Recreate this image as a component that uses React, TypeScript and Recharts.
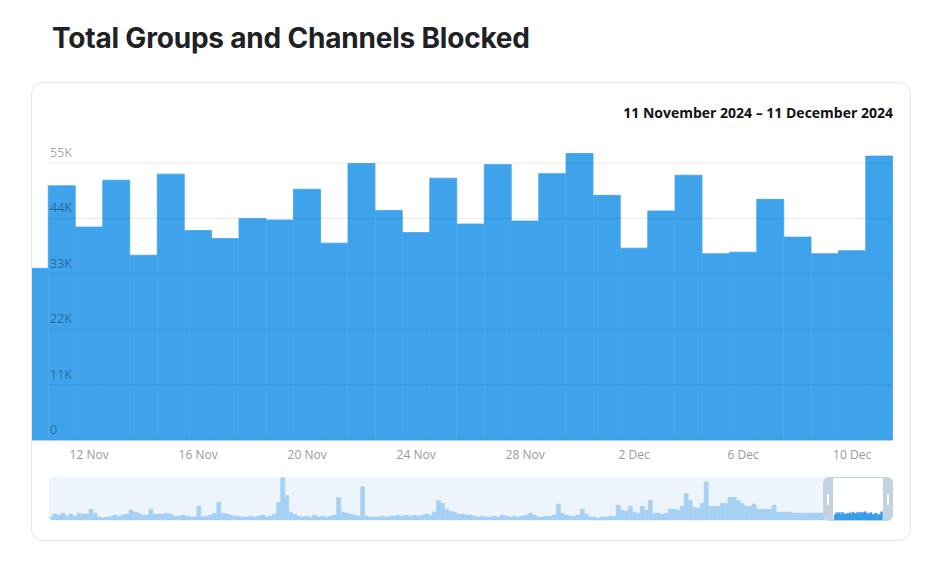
import React from 'react';
import { BarChart, Bar, XAxis, YAxis, CartesianGrid } from 'recharts';

const days = [
  '10 Nov', '11 Nov', '12 Nov', '13 Nov', '14 Nov', '15 Nov', '16 Nov', '17 Nov', '18 Nov', '19 Nov',
  '20 Nov', '21 Nov', '22 Nov', '23 Nov', '24 Nov', '25 Nov', '26 Nov', '27 Nov', '28 Nov', '29 Nov',
  '30 Nov', '1 Dec', '2 Dec', '3 Dec', '4 Dec', '5 Dec', '6 Dec', '7 Dec', '8 Dec', '9 Dec',
  '10 Dec', '11 Dec',
];

const blocked = [
  34100, 50500, 42300, 51600, 36700, 52800, 41600, 40000, 44000, 43700,
  49800, 39100, 54900, 45600, 41200, 52000, 42900, 54700, 43500, 52900,
  56900, 48600, 38100, 45500, 52600, 37000, 37300, 47800, 40300, 37000,
  37600, 56400,
];

const tickLabels = ['12 Nov', '16 Nov', '20 Nov', '24 Nov', '28 Nov', '2 Dec', '6 Dec', '10 Dec'];
const yTicks = [0, 11000, 22000, 33000, 44000, 55000];

// long-term history shown in the navigator (thousands per period)
const navHistory = [
  20, 40, 33, 46, 26, 40, 26, 46, 40, 40,
  73, 46, 20, 13, 20, 26, 33, 26, 33, 40,
  66, 53, 46, 33, 33, 73, 40, 40, 40, 46,
  40, 26, 26, 33, 26, 20, 20, 92, 20, 26,
  33, 46, 119, 46, 40, 33, 26, 26, 20, 20,
  26, 20, 26, 33, 20, 26, 40, 119, 284, 165,
  53, 40, 26, 20, 26, 20, 33, 20, 26, 20,
  26, 33, 152, 53, 46, 40, 33, 26, 224, 26,
  20, 20, 20, 26, 20, 26, 26, 33, 26, 33,
  26, 33, 26, 33, 40, 33, 53, 132, 112, 73,
  59, 53, 40, 40, 33, 33, 26, 20, 26, 20,
  20, 26, 20, 33, 26, 20, 26, 20, 26, 33,
  46, 33, 20, 20, 26, 26, 33, 106, 46, 33,
  26, 26, 33, 73, 40, 20, 20, 13, 20, 20,
  26, 26, 99, 66, 59, 92, 53, 46, 92, 66,
  132, 46, 46, 40, 46, 73, 73, 66, 92, 178,
  132, 86, 79, 112, 257, 92, 92, 92, 112, 112,
  152, 152, 132, 112, 92, 92, 106, 73, 73, 73,
  73, 99, 53, 53, 53, 53, 46, 46, 46, 46,
  46, 46, 46, 46,
];

const mainData = days.map((d, i) => ({ day: d, value: blocked[i] }));
const navData = navHistory.map((v, i) => ({ i, v }));

const BAR = '#3fa3ec';
const FONT = "'Open Sans', 'Noto Sans', sans-serif";
const OVERLAY_PAD = 20;

const formatK = (v: number) => (v === 0 ? '0' : `${Math.round(v / 1000)}K`);

function YTick(props: any) {
  const { y, payload } = props;
  return (
    <text x={18} y={y - 6} fill="#000" fillOpacity={0.38} fontSize={12.5} fontFamily={FONT}>
      {formatK(payload.value)}
    </text>
  );
}

export default function App() {
  return (
    <div
      style={{
        position: 'absolute',
        left: 0,
        top: 0,
        width: 944,
        height: 573,
        background: '#fff',
        fontFamily: FONT,
        overflow: 'hidden',
      }}
    >
      <div
        style={{
          position: 'absolute',
          left: 52,
          top: 24,
          fontFamily: "Inter, 'Noto Sans', sans-serif",
          fontWeight: 700,
          fontSize: 28,
          lineHeight: '28px',
          color: '#202124',
          letterSpacing: -0.2,
          whiteSpace: 'nowrap',
        }}
      >
        Total Groups and Channels Blocked
      </div>

      <div
        style={{
          position: 'absolute',
          left: 31,
          top: 82,
          width: 880,
          height: 459,
          boxSizing: 'border-box',
          border: '1px solid #e6e6e6',
          borderRadius: 12,
        }}
      />

      <div
        style={{
          position: 'absolute',
          left: 0,
          top: 106,
          width: 893,
          textAlign: 'right',
          fontWeight: 700,
          fontSize: 14,
          lineHeight: '13.5px',
          color: '#111',
          whiteSpace: 'nowrap',
        }}
      >
        11 November 2024 – 11 December 2024
      </div>

      {/* main bars */}
      <div style={{ position: 'absolute', left: 32, top: 148 }}>
        <BarChart
          width={861}
          height={322}
          data={mainData}
          margin={{ top: 0, right: 0, bottom: 0, left: 0 }}
          barCategoryGap={0}
          barGap={0}
        >
          <XAxis
            dataKey="day"
            interval={0}
            tickLine={false}
            axisLine={false}
            height={30}
            tickMargin={4}
            padding={{ left: -11, right: 0 }}
            allowDataOverflow
            tick={{ fill: '#999', fontSize: 12, fontFamily: FONT }}
            tickFormatter={(v: string) => (tickLabels.includes(v) ? v : '')}
          />
          <YAxis type="number" domain={[0, 58000]} ticks={yTicks} hide />
          <Bar dataKey="value" fill={BAR} stroke={BAR} strokeWidth={0.8} isAnimationActive={false} />
        </BarChart>
      </div>

      {/* grid + y labels drawn over the bars */}
      <div style={{ position: 'absolute', left: 32, top: 148 - OVERLAY_PAD }}>
        <BarChart
          width={861}
          height={292 + 2 * OVERLAY_PAD}
          data={mainData}
          margin={{ top: OVERLAY_PAD, right: 0, bottom: OVERLAY_PAD, left: 0 }}
          barCategoryGap={0}
        >
          <XAxis dataKey="day" hide />
          <YAxis
            type="number"
            domain={[0, 58000]}
            ticks={yTicks}
            interval={0}
            mirror
            width={40}
            axisLine={false}
            tickLine={false}
            tick={<YTick />}
          />
          <CartesianGrid
            vertical={false}
            horizontal={(p: any) =>
              p.y1 < OVERLAY_PAD + 3 ? (
                <g key={`h-${p.index}`} />
              ) : (
                <line
                  key={`h-${p.index}`}
                  x1={p.x1 + 16}
                  y1={p.y1}
                  x2={p.x2}
                  y2={p.y2}
                  stroke="#000"
                  strokeOpacity={0.08}
                  strokeWidth={1}
                />
              )
            }
          />
          <Bar dataKey="value" fill="none" fillOpacity={0} isAnimationActive={false} />
        </BarChart>
      </div>

      {/* navigator */}
      <div
        style={{
          position: 'absolute',
          left: 49,
          top: 477,
          width: 844,
          height: 44,
          background: '#edf4fb',
          borderRadius: 6,
          overflow: 'hidden',
        }}
      >
        <div style={{ position: 'absolute', left: 0, top: 0 }}>
          <BarChart
            width={775}
            height={43}
            data={navData}
            margin={{ top: 0, right: 0, bottom: 0, left: 0 }}
            barCategoryGap={0}
            barGap={0}
          >
            <XAxis dataKey="i" hide />
            <YAxis type="number" domain={[0, 290]} hide />
            <Bar dataKey="v" fill="#a6d0f4" stroke="#a6d0f4" strokeWidth={0.6} isAnimationActive={false} />
          </BarChart>
        </div>
      </div>

      {/* selected window */}
      <div
        style={{
          position: 'absolute',
          left: 823,
          top: 477,
          width: 70,
          height: 44,
          boxSizing: 'border-box',
          borderStyle: 'solid',
          borderColor: '#c3d2e1',
          borderWidth: '1px 10px',
          borderRadius: 6,
          background: '#fff',
        }}
      >
        <div style={{ position: 'absolute', left: 0, top: 0 }}>
          <BarChart
            width={50}
            height={42}
            data={mainData}
            margin={{ top: 0, right: 1, bottom: 0, left: 1 }}
            barCategoryGap={0}
            barGap={0}
          >
            <XAxis dataKey="day" hide />
            <YAxis type="number" domain={[0, 290000]} hide />
            <Bar dataKey="value" fill="#3a9de8" stroke="#3a9de8" strokeWidth={0.5} isAnimationActive={false} />
          </BarChart>
        </div>
        <div
          style={{
            position: 'absolute',
            left: -6,
            top: 16,
            width: 2,
            height: 11,
            borderRadius: 1,
            background: '#fff',
          }}
        />
        <div
          style={{
            position: 'absolute',
            right: -6,
            top: 16,
            width: 2,
            height: 11,
            borderRadius: 1,
            background: '#fff',
          }}
        />
      </div>
    </div>
  );
}
